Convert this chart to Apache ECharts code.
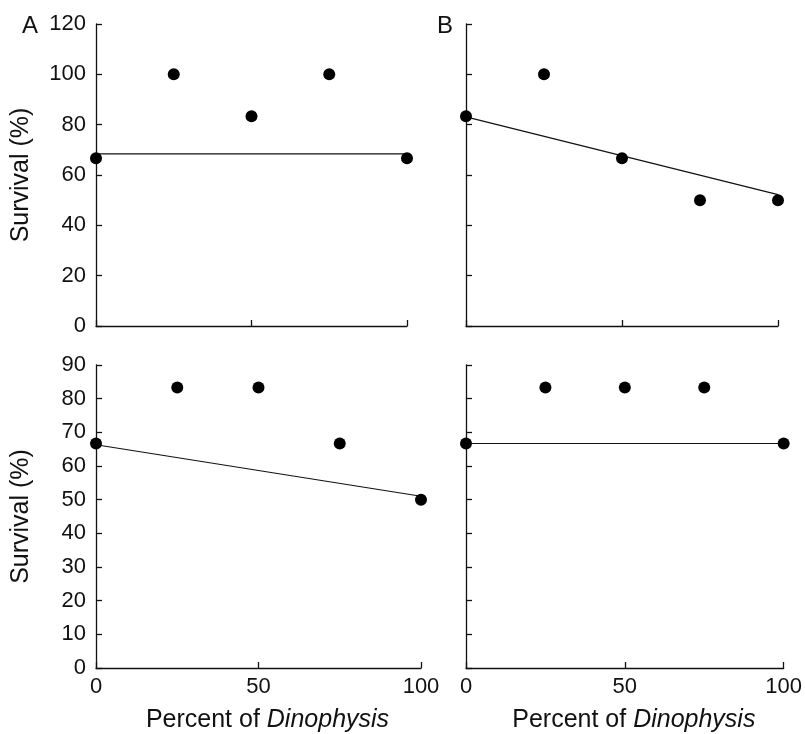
<!DOCTYPE html>
<html>
<head>
<meta charset="utf-8">
<script src="https://cdn.jsdelivr.net/npm/echarts@6/dist/echarts.min.js"></script>
<style>
  html, body { margin: 0; padding: 0; background: #fff; }
  #chart { width: 805px; height: 734px; }
</style>
</head>
<body>
<div id="chart"></div>
<script>
// percent of Dinophysis
const xPct = [0, 25, 50, 75, 100];
// survival (%) in each panel
const survTopA = [66.7, 100, 83.3, 100, 66.7];
const survTopB = [83.3, 100, 66.7, 50, 50];
const survBotA = [66.7, 83.3, 83.3, 66.7, 50];
const survBotB = [66.7, 83.3, 83.3, 83.3, 66.7];
// fitted lines (start at 0, end at 100)
const fitX = [0, 100];
const fitTopA = [68.4, 68.4];
const fitTopB = [83.1, 52.2];
const fitBotA = [66.3, 51.0];
const fitBotB = [66.7, 66.7];
// axis ticks
const yTopMax = 120, yTopStep = 20;
const yBotMax = 90, yBotStep = 10;

const font = "'Liberation Sans', Arial, Helvetica, sans-serif";
const pairs = (xs, ys) => xs.map((x, i) => [x, ys[i]]);

const axisLine = { show: true, lineStyle: { color: "#111", width: 1.3 } };
const axisTick = { show: true, inside: true, length: 6, lineStyle: { color: "#111", width: 1.3 } };

function xAxis(gridIndex, showLabels) {
  return {
    type: "value",
    gridIndex: gridIndex,
    min: 0,
    max: 100,
    interval: 50,
    splitLine: { show: false },
    axisLine: axisLine,
    axisTick: axisTick,
    axisLabel: {
      show: showLabels,
      color: "#111",
      fontSize: 22,
      fontFamily: font,
      margin: 8,
      showMaxLabel: true,
      showMinLabel: true
    },
    name: showLabels ? "{a|Percent of }{b|Dinophysis}" : "",
    nameLocation: "middle",
    nameGap: 40,
    nameTextStyle: {
      padding: [0, 0, 0, 18],
      rich: {
        a: { fontSize: 25, fontFamily: font, color: "#111" },
        b: { fontSize: 25, fontFamily: font, color: "#111", fontStyle: "italic" }
      }
    }
  };
}

function yAxis(gridIndex, max, step, showLabels) {
  return {
    type: "value",
    gridIndex: gridIndex,
    min: 0,
    max: max,
    interval: step,
    splitLine: { show: false },
    axisLine: axisLine,
    axisTick: axisTick,
    axisLabel: {
      show: showLabels,
      color: "#111",
      fontSize: 22,
      fontFamily: font,
      margin: 10
    },
    name: showLabels ? "Survival (%)" : "",
    nameLocation: "middle",
    nameGap: 62,
    nameTextStyle: { fontSize: 25, fontFamily: font, color: "#111" }
  };
}

function dots(i, ys) {
  return {
    type: "scatter",
    xAxisIndex: i,
    yAxisIndex: i,
    data: pairs(xPct, ys),
    symbolSize: 12,
    itemStyle: { color: "#000", opacity: 1 },
    clip: false,
    z: 3
  };
}

function fit(i, ys) {
  return {
    type: "line",
    xAxisIndex: i,
    yAxisIndex: i,
    data: pairs(fitX, ys),
    showSymbol: false,
    lineStyle: { color: "#111", width: 1.1 },
    clip: false,
    z: 2
  };
}

const chart = echarts.init(document.getElementById("chart"));
chart.setOption({
  backgroundColor: "#fff",
  animation: false,
  title: [
    { text: "A", left: 17, top: 9, textStyle: { fontSize: 24, fontWeight: "normal", fontFamily: font, color: "#111" } },
    { text: "B", left: 432, top: 9, textStyle: { fontSize: 24, fontWeight: "normal", fontFamily: font, color: "#111" } }
  ],
  grid: [
    { left: 96, top: 24, width: 311, height: 302 },
    { left: 466, top: 24, width: 312, height: 302 },
    { left: 96, top: 365, width: 325, height: 303 },
    { left: 466, top: 365, width: 325, height: 303 }
  ],
  xAxis: [xAxis(0, false), xAxis(1, false), xAxis(2, true), xAxis(3, true)],
  yAxis: [
    yAxis(0, yTopMax, yTopStep, true),
    yAxis(1, yTopMax, yTopStep, false),
    yAxis(2, yBotMax, yBotStep, true),
    yAxis(3, yBotMax, yBotStep, false)
  ],
  series: [
    fit(0, fitTopA), dots(0, survTopA),
    fit(1, fitTopB), dots(1, survTopB),
    fit(2, fitBotA), dots(2, survBotA),
    fit(3, fitBotB), dots(3, survBotB)
  ]
});
</script>
</body>
</html>
